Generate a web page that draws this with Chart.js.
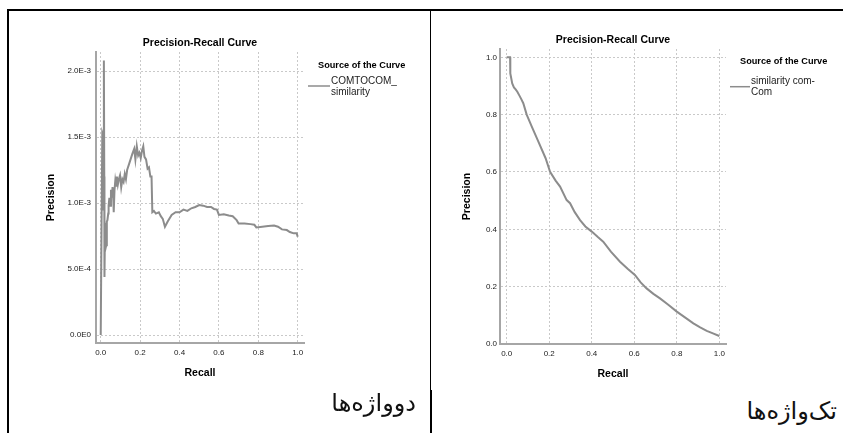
<!DOCTYPE html>
<html>
<head>
<meta charset="utf-8">
<script src="https://cdn.jsdelivr.net/npm/chart.js@4.4.1/dist/chart.umd.min.js"></script>
<style>
  html, body { margin: 0; padding: 0; background: #fff; }
  body { position: relative; width: 844px; height: 433px; overflow: hidden; }
  canvas { position: absolute; top: 0; }
  #prLeft { left: 0; }
  #prRight { left: 432px; }
  .rule { position: absolute; background: #000; }
  .cell-label {
    position: absolute;
    direction: rtl;
    font-family: 'DejaVu Sans', sans-serif;
    font-size: 24px;
    font-weight: normal;
    color: #111;
    white-space: nowrap;
  }
</style>
</head>
<body>
<canvas id="prLeft" width="430" height="390"></canvas>
<canvas id="prRight" width="412" height="390"></canvas>

<div class="rule" style="left:7px;top:9px;width:836px;height:2px"></div>
<div class="rule" style="left:7px;top:9px;width:2px;height:424px"></div>
<div class="rule" style="left:430px;top:9px;width:1px;height:381px"></div>
<div class="rule" style="left:430px;top:390px;width:2px;height:43px"></div>

<div class="cell-label" style="right:428px;top:389px">دوواژه‌ها</div>
<div class="cell-label" style="right:7px;top:397px">تک‌واژه‌ها</div>

<script>
// Two-word terms (left panel)
const leftRecall = [
  0.000, 0.004, 0.008, 0.010, 0.012, 0.016, 0.018, 0.019, 0.022, 0.025,
  0.028, 0.031, 0.034, 0.038, 0.040, 0.044, 0.048, 0.052, 0.056, 0.060,
  0.064, 0.066, 0.070, 0.074, 0.078, 0.082, 0.087, 0.092, 0.098, 0.104,
  0.110, 0.116, 0.122, 0.128, 0.134, 0.145, 0.160, 0.170, 0.176, 0.183,
  0.190, 0.196, 0.203, 0.210, 0.216, 0.222, 0.230, 0.238, 0.245, 0.252,
  0.258, 0.262, 0.270, 0.280, 0.295, 0.305, 0.315, 0.326, 0.340, 0.360,
  0.380, 0.400, 0.420, 0.440, 0.460, 0.480, 0.500, 0.520, 0.540, 0.560,
  0.575, 0.590, 0.600, 0.625, 0.650, 0.670, 0.690, 0.700, 0.730, 0.760,
  0.780, 0.790, 0.820, 0.850, 0.880, 0.900, 0.920, 0.945, 0.960, 0.980,
  0.995, 1.000
];
const leftPrecision = [
  0.00000, 0.00080, 0.00153, 0.00152, 0.00095, 0.00208, 0.00120, 0.00044, 0.00085, 0.00066,
  0.00068, 0.00086, 0.00087, 0.00092, 0.00098, 0.00104, 0.00098, 0.00110, 0.00104, 0.00112,
  0.00102, 0.00093, 0.00110, 0.00117, 0.00113, 0.00120, 0.00114, 0.00118, 0.00121, 0.00112,
  0.00118, 0.00116, 0.00122, 0.00118, 0.00125, 0.00130, 0.00137, 0.00141, 0.00133, 0.00143,
  0.00136, 0.00138, 0.00134, 0.00140, 0.00143, 0.00135, 0.00133, 0.00126, 0.00127, 0.00120,
  0.00120, 0.00093, 0.00094, 0.00092, 0.00093, 0.00090, 0.00088, 0.00082, 0.00086, 0.00091,
  0.00093, 0.00093, 0.00095, 0.00094, 0.00096, 0.00097, 0.000985, 0.00098, 0.00097, 0.00097,
  0.000955, 0.00095, 0.00091, 0.000915, 0.000905, 0.00090, 0.00087, 0.000845, 0.000845, 0.00084,
  0.000835, 0.000815, 0.00082, 0.000825, 0.00083, 0.00082, 0.00080, 0.000795, 0.00078, 0.00077,
  0.00077, 0.000745
];

// Single-word terms (right panel)
const rightRecall = [
  0.000, 0.016, 0.017, 0.026, 0.034, 0.042, 0.050, 0.058, 0.068, 0.078,
  0.094, 0.118, 0.149, 0.183, 0.204, 0.230, 0.251, 0.282, 0.298, 0.320,
  0.345, 0.370, 0.400, 0.430, 0.454, 0.490, 0.533, 0.570, 0.603, 0.630,
  0.658, 0.690, 0.721, 0.760, 0.800, 0.840, 0.878, 0.910, 0.941, 0.970,
  1.000
];
const rightPrecision = [
  1.000, 1.000, 0.944, 0.909, 0.895, 0.888, 0.880, 0.869, 0.855, 0.840,
  0.800, 0.758, 0.706, 0.648, 0.601, 0.570, 0.549, 0.502, 0.491, 0.460,
  0.432, 0.410, 0.392, 0.372, 0.357, 0.322, 0.287, 0.262, 0.241, 0.215,
  0.194, 0.175, 0.159, 0.137, 0.113, 0.092, 0.072, 0.058, 0.046, 0.037,
  0.028
];

const recallTicks = [0, 0.2, 0.4, 0.6, 0.8, 1.0];
const recallTickLabels = ['0.0', '0.2', '0.4', '0.6', '0.8', '1.0'];
const leftPrecisionTicks = [0, 0.0005, 0.001, 0.0015, 0.002];
const leftPrecisionTickLabels = ['0.0E0', '5.0E-4', '1.0E-3', '1.5E-3', '2.0E-3'];
const rightPrecisionTicks = [0, 0.2, 0.4, 0.6, 0.8, 1.0];
const rightPrecisionTickLabels = ['0.0', '0.2', '0.4', '0.6', '0.8', '1.0'];

const curveGray = '#8c8c8c';
const axisGray = '#a6a6a6';
const gridGray = '#c9c9c9';
const textDark = '#1a1a1a';

Chart.defaults.font.family = "'Liberation Sans', Arial, sans-serif";
Chart.defaults.color = textDark;

// SPSS style legend on the right of the plot
const spssLegend = {
  id: 'spssLegend',
  afterDraw(chart, args, opts) {
    const { ctx, chartArea } = chart;
    const x0 = chartArea.right;
    const top = chartArea.top;
    ctx.save();
    ctx.textBaseline = 'middle';
    ctx.textAlign = 'left';
    ctx.fillStyle = '#000';
    ctx.font = "bold 9.2px 'Liberation Sans', Arial, sans-serif";
    ctx.fillText('Source of the Curve', x0 + 14, top + opts.titleY);

    ctx.strokeStyle = curveGray;
    ctx.lineWidth = 1.5;
    ctx.beginPath();
    ctx.moveTo(x0 + 4, top + opts.symbolY);
    ctx.lineTo(x0 + opts.symbolLen + 4, top + opts.symbolY);
    ctx.stroke();

    ctx.fillStyle = '#222';
    ctx.font = "10px 'Liberation Sans', Arial, sans-serif";
    opts.lines.forEach((t, i) => {
      ctx.fillText(t, x0 + opts.symbolLen + 5, top + opts.itemY + i * 10.5);
    });
    ctx.restore();
  }
};

function createPrCurve(canvas, cfg) {
  const points = cfg.recall.map((r, i) => ({ x: r, y: cfg.precision[i] }));

  return new Chart(canvas, {
    type: 'line',
    data: {
      datasets: [{
        label: cfg.legendLines.join(' '),
        data: points,
        borderColor: curveGray,
        borderWidth: 2,
        pointRadius: 0,
        tension: 0,
        fill: false
      }]
    },
    options: {
      responsive: false,
      animation: false,
      events: [],
      layout: { padding: { left: 0, right: cfg.padRight, top: 0, bottom: 0 } },
      scales: {
        x: {
          type: 'linear',
          min: cfg.xMin,
          max: cfg.xMax,
          afterFit: s => { s.height = cfg.xHeight; },
          afterBuildTicks: s => { s.ticks = recallTicks.map(v => ({ value: v })); },
          ticks: {
            autoSkip: false,
            maxRotation: 0,
            padding: 5,
            font: { size: 8 },
            color: textDark,
            callback: (v, i) => recallTickLabels[i]
          },
          grid: { color: gridGray, lineWidth: 1, drawTicks: false },
          border: { display: true, color: axisGray, width: 2, dash: [2, 2] },
          title: {
            display: true,
            text: 'Recall',
            font: { size: 10.5, weight: 'bold' },
            color: '#000',
            padding: { top: 0, bottom: cfg.xTitlePad }
          }
        },
        y: {
          type: 'linear',
          min: cfg.yMin,
          max: cfg.yMax,
          afterFit: s => { s.width = cfg.yWidth; },
          afterBuildTicks: s => { s.ticks = cfg.yTicks.map(v => ({ value: v })); },
          ticks: {
            autoSkip: false,
            padding: cfg.yTickPad,
            font: { size: 8 },
            color: textDark,
            callback: (v, i) => cfg.yTickLabels[i]
          },
          grid: { color: gridGray, lineWidth: 1, drawTicks: false },
          border: { display: true, color: axisGray, width: 2, dash: [2, 2] },
          title: {
            display: true,
            text: 'Precision',
            font: { size: 10.5, weight: 'bold' },
            color: '#000',
            padding: { top: cfg.yTitlePad, bottom: 0 }
          }
        }
      },
      plugins: {
        legend: { display: false },
        tooltip: { enabled: false },
        title: {
          display: true,
          fullSize: false,
          text: 'Precision-Recall Curve',
          color: '#000',
          font: { size: 10.5, weight: 'bold' },
          padding: { top: cfg.titleTop, bottom: cfg.titleBottom }
        },
        spssLegend: {
          lines: cfg.legendLines,
          titleY: cfg.legendTitleY,
          itemY: cfg.legendItemY,
          symbolY: cfg.legendSymbolY,
          symbolLen: cfg.symbolLen
        }
      }
    },
    plugins: [spssLegend]
  });
}

createPrCurve(document.getElementById('prLeft'), {
  recall: leftRecall,
  precision: leftPrecision,
  xMin: -0.024, xMax: 1.032,
  yMin: -0.0000606, yMax: 0.002144,
  yTicks: leftPrecisionTicks,
  yTickLabels: leftPrecisionTickLabels,
  padRight: 126,
  yWidth: 96, yTickPad: 5, yTitlePad: 45,
  xHeight: 47, xTitlePad: 10.7,
  titleTop: 36.7, titleBottom: 2.7,
  legendLines: ['COMTOCOM_', 'similarity'],
  legendTitleY: 13.7, legendItemY: 29.7, legendSymbolY: 34, symbolLen: 22
});

createPrCurve(document.getElementById('prRight'), {
  recall: rightRecall,
  precision: rightPrecision,
  xMin: -0.0315, xMax: 1.0315,
  yMin: 0, yMax: 1.029,
  yTicks: rightPrecisionTicks,
  yTickLabels: rightPrecisionTickLabels,
  padRight: 118,
  yWidth: 68, yTickPad: 3, yTitlePad: 28.4,
  xHeight: 46, xTitlePad: 9.7,
  titleTop: 33.7, titleBottom: 2.7,
  legendLines: ['similarity com-', 'Com'],
  legendTitleY: 12.7, legendItemY: 32.7, legendSymbolY: 37.7, symbolLen: 20
});
</script>
</body>
</html>
